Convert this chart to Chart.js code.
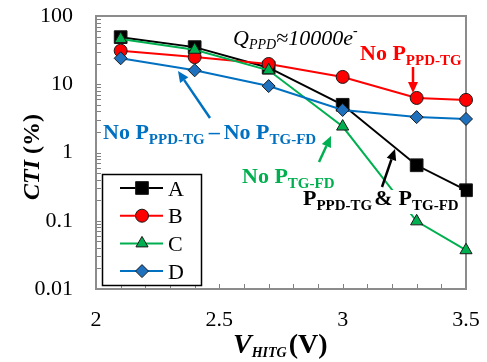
<!DOCTYPE html>
<html>
<head>
<meta charset="utf-8">
<script src="https://cdn.jsdelivr.net/npm/chart.js@4.4.1/dist/chart.umd.min.js"></script>
<style>
  html, body { margin: 0; padding: 0; background: #fff; }
  #wrap { width: 487px; height: 362px; }
</style>
</head>
<body>
<div id="wrap"><canvas id="cti" width="487" height="362"></canvas></div>
<script>
// V_HITG sweep (V) and CTI (%) per configuration
const voltages = [2.1, 2.4, 2.7, 3.0, 3.3, 3.5];
const ctiA = [49, 35, 17.5, 5.0, 0.65, 0.28];
const ctiB = [31, 25, 19.8, 12.8, 6.3, 5.9];
const ctiC = [46, 32, 16, 2.4, 0.098, 0.037];
const ctiD = [24, 16, 9.4, 4.2, 3.3, 3.1];
const seriesNames = ['A', 'B', 'C', 'D'];
const xTicks = [2, 2.5, 3, 3.5];
const yTicks = [0.01, 0.1, 1, 10, 100];

const serif = '"Liberation Serif", "Times New Roman", serif';
const frameGrey = '#8c8c8c';

const styles = [
  { color: '#000000', fill: '#000000', pointStyle: 'rect', radius: 9, order: 4 },
  { color: '#ff0000', fill: '#ff0000', pointStyle: 'circle', radius: 6.5, order: 3 },
  { color: '#00b050', fill: '#00b050', pointStyle: 'triangle', radius: 7, order: 2 },
  { color: '#0070c0', fill: '#1f70bd', pointStyle: 'rectRot', radius: 6.5, order: 1 }
];

const allSeries = [ctiA, ctiB, ctiC, ctiD];
const datasets = allSeries.map((vals, i) => ({
  label: seriesNames[i],
  data: vals.map((v, j) => ({ x: voltages[j], y: v })),
  borderColor: styles[i].color,
  backgroundColor: styles[i].fill,
  borderWidth: 2,
  pointStyle: styles[i].pointStyle,
  pointRadius: styles[i].radius,
  pointBackgroundColor: styles[i].fill,
  pointBorderColor: '#1a1a1a',
  pointBorderWidth: 1,
  tension: 0,
  clip: false,
  order: styles[i].order
}));

// draw a run of text pieces (normal / sub / superscript) left to right
function drawRuns(ctx, x, y, runs, color) {
  ctx.fillStyle = color;
  ctx.textAlign = 'left';
  ctx.textBaseline = 'alphabetic';
  for (const r of runs) {
    x += r.gap || 0;
    ctx.font = r.font;
    ctx.fillText(r.t, x, y + (r.dy || 0));
    x += ctx.measureText(r.t).width;
  }
  return x;
}

function runsWidth(ctx, runs) {
  let w = 0;
  for (const r of runs) {
    ctx.font = r.font;
    w += (r.gap || 0) + ctx.measureText(r.t).width;
  }
  return w;
}

function arrow(ctx, x1, y1, x2, y2, color) {
  const ang = Math.atan2(y2 - y1, x2 - x1);
  const len = 11, half = 5;
  const bx = x2 - len * Math.cos(ang), by = y2 - len * Math.sin(ang);
  ctx.strokeStyle = color;
  ctx.fillStyle = color;
  ctx.lineWidth = 2.5;
  ctx.beginPath();
  ctx.moveTo(x1, y1);
  ctx.lineTo(bx, by);
  ctx.stroke();
  ctx.beginPath();
  ctx.moveTo(x2, y2);
  ctx.lineTo(bx + half * Math.sin(ang), by - half * Math.cos(ang));
  ctx.lineTo(bx - half * Math.sin(ang), by + half * Math.cos(ang));
  ctx.closePath();
  ctx.fill();
}

const B22 = `bold 22px ${serif}`;
const B15 = `bold 15px ${serif}`;
const I22 = `italic 22px ${serif}`;
const I14 = `italic 14px ${serif}`;

const decor = {
  id: 'decor',
  beforeDatasetsDraw(chart) {
    const { ctx, chartArea: a, scales: { x, y } } = chart;
    ctx.save();
    // inside minor ticks
    ctx.strokeStyle = '#808080';
    ctx.lineWidth = 1;
    ctx.beginPath();
    for (let d = 0.01; d < 100; d *= 10) {
      for (let m = 1; m <= 10; m++) {
        const py = Math.round(y.getPixelForValue(m * d)) + 0.5;
        ctx.moveTo(a.left, py);
        ctx.lineTo(a.left + 5, py);
      }
    }
    for (let k = 1; k < 15; k++) {
      const px = Math.round(x.getPixelForValue(2 + k / 10)) + 0.5;
      ctx.moveTo(px, a.bottom);
      ctx.lineTo(px, a.bottom - 5);
    }
    ctx.stroke();
    // plot frame
    ctx.strokeStyle = frameGrey;
    ctx.lineWidth = 2;
    ctx.strokeRect(a.left, a.top, a.right - a.left, a.bottom - a.top);
    ctx.restore();
  },
  afterDatasetsDraw(chart) {
    const { ctx } = chart;
    ctx.save();

    // charge label
    drawRuns(ctx, 233, 45, [
      { t: 'Q', font: I22 },
      { t: 'PPD', font: I14, dy: 4 },
      { t: '\u224810000e', font: I22 },
      { t: '-', font: I14, dy: -10 }
    ], '#000');

    // red
    drawRuns(ctx, 360, 60, [
      { t: 'No P', font: B22 },
      { t: 'PPD-TG', font: B15, dy: 5 }
    ], '#ff0000');
    arrow(ctx, 413, 67, 413, 93, '#ff0000');

    // blue
    drawRuns(ctx, 103, 139, [
      { t: 'No P', font: B22 },
      { t: 'PPD-TG', font: B15, dy: 5 },
      { t: '\u2013', font: B22, gap: 4 },
      { t: 'No P', font: B22, gap: 4 },
      { t: 'TG-FD', font: B15, dy: 5 }
    ], '#0070c0');
    arrow(ctx, 210, 118, 178, 71, '#0070c0');

    // green
    drawRuns(ctx, 242, 183, [
      { t: 'No P', font: B22 },
      { t: 'TG-FD', font: B15, dy: 5 }
    ], '#00b050');
    arrow(ctx, 319, 162, 331, 136, '#00b050');

    // black, on a white box
    const blackRuns = [
      { t: 'P', font: B22 },
      { t: 'PPD-TG', font: B15, dy: 5 },
      { t: '&', font: B22, gap: 2 },
      { t: 'P', font: B22, gap: 6 },
      { t: 'TG-FD', font: B15, dy: 5 }
    ];
    ctx.fillStyle = '#fff';
    ctx.fillRect(301, 190, runsWidth(ctx, blackRuns) + 4, 24);
    drawRuns(ctx, 303, 205, blackRuns, '#000');
    arrow(ctx, 382, 187, 395, 149, '#000');

    // legend box
    const lx = 102.5, ly = 174.5, lw = 99, lh = 111;
    ctx.fillStyle = '#fff';
    ctx.fillRect(lx, ly, lw, lh);
    ctx.strokeStyle = '#000';
    ctx.lineWidth = 1.5;
    ctx.strokeRect(lx, ly, lw, lh);
    chart.data.datasets.forEach((ds, i) => {
      const cy = 188 + i * 27.7;
      ctx.strokeStyle = ds.borderColor;
      ctx.lineWidth = 2;
      ctx.beginPath();
      ctx.moveTo(120, cy);
      ctx.lineTo(163, cy);
      ctx.stroke();
      ctx.fillStyle = ds.pointBackgroundColor;
      ctx.strokeStyle = ds.pointBorderColor;
      ctx.lineWidth = 1;
      Chart.helpers.drawPoint(ctx, {
        pointStyle: ds.pointStyle, radius: ds.pointRadius, rotation: 0, borderWidth: 1
      }, 142, cy);
      ctx.fillStyle = '#000';
      ctx.font = `22px ${serif}`;
      ctx.textBaseline = 'alphabetic';
      ctx.fillText(ds.label, 168, cy + 7.5);
    });
    ctx.restore();
  },
  afterDraw(chart) {
    const { ctx } = chart;
    ctx.save();
    // x axis title
    drawRuns(ctx, 233, 353, [
      { t: 'V', font: `bold italic 28px ${serif}` },
      { t: 'HITG', font: `bold italic 14px ${serif}`, dy: 4 },
      { t: '(V)', font: `bold 28px ${serif}`, gap: 2 }
    ], '#000');
    // y axis title
    const yRuns = [
      { t: 'CTI', font: `bold italic 24px ${serif}` },
      { t: ' (%)', font: `bold 24px ${serif}` }
    ];
    ctx.translate(39, 157);
    ctx.rotate(-Math.PI / 2);
    drawRuns(ctx, -runsWidth(ctx, yRuns) / 2, 0, yRuns, '#000');
    ctx.restore();
  }
};

new Chart(document.getElementById('cti'), {
  type: 'line',
  data: { datasets },
  plugins: [decor],
  options: {
    responsive: false,
    animation: false,
    layout: { padding: { top: 16, right: 21, left: 0, bottom: 0 } },
    plugins: { legend: { display: false }, tooltip: { enabled: false } },
    scales: {
      x: {
        type: 'linear',
        min: 2,
        max: 3.5,
        grid: { display: false, drawTicks: false },
        border: { display: false },
        afterBuildTicks: s => { s.ticks = xTicks.map(v => ({ value: v })); },
        afterFit: s => { s.height = 73; s.paddingLeft = 0; s.paddingRight = 0; },
        ticks: {
          padding: 18,
          color: '#000',
          maxRotation: 0,
          autoSkip: false,
          font: { family: serif, size: 22 },
          callback: v => String(v)
        }
      },
      y: {
        type: 'logarithmic',
        min: 0.01,
        max: 100,
        grid: { display: false, drawTicks: false },
        border: { display: false },
        afterBuildTicks: s => { s.ticks = yTicks.map(v => ({ value: v })); },
        afterFit: s => { s.width = 96; s.paddingTop = 0; s.paddingBottom = 0; },
        ticks: {
          padding: 23,
          color: '#000',
          autoSkip: false,
          font: { family: serif, size: 22 },
          callback: v => String(v)
        }
      }
    }
  }
});
</script>
</body>
</html>
